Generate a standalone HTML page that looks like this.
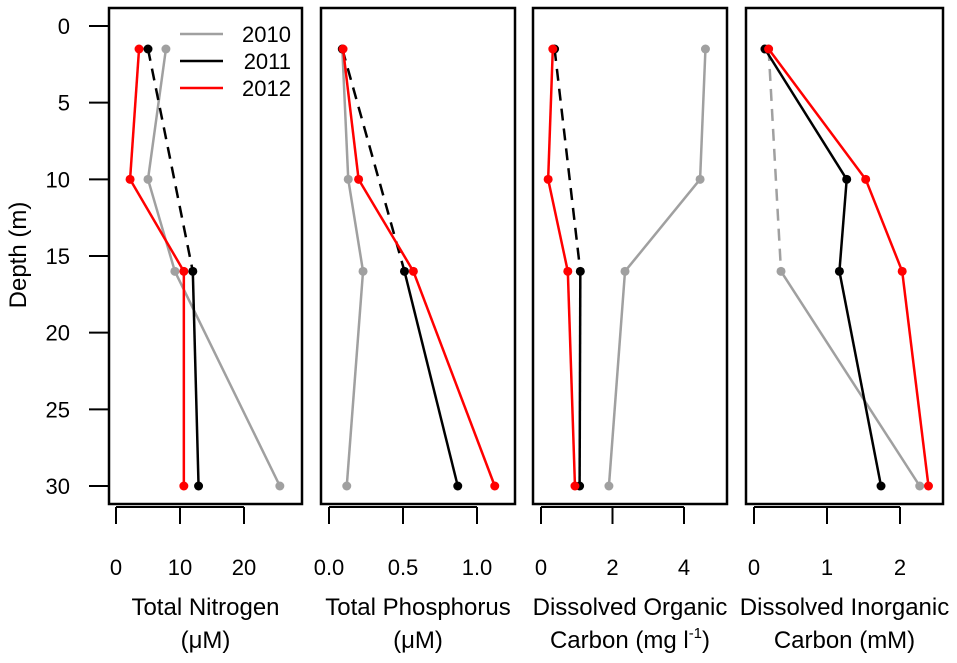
<!DOCTYPE html>
<html><head><meta charset="utf-8"><style>
body{margin:0;background:#fff}
svg text{font-family:"Liberation Sans",sans-serif;fill:#000}
</style></head><body>
<svg id="c" width="957" height="658" font-size="22" font-family="Liberation Sans, sans-serif" xmlns="http://www.w3.org/2000/svg"></svg>
<script>
const depths=[1.5,10,16,30];
const years=["2010","2011","2012"];
const tnValues=[[7.8,5,9.2,25.6],[5,null,12,12.9],[3.6,2.2,10.6,10.6]];
const tpValues=[[0.09,0.13,0.23,0.12],[0.09,null,0.51,0.87],[0.095,0.2,0.57,1.12]];
const docValues=[[4.6,4.45,2.35,1.9],[0.38,null,1.1,1.08],[0.33,0.2,0.75,0.95]];
const dicValues=[[0.2,null,0.37,2.27],[0.15,1.27,1.17,1.74],[0.2,1.53,2.03,2.39]];
const depthTicks=[0,5,10,15,20,25,30];
const tnTicks=["0","10","20"];
const tpTicks=["0.0","0.5","1.0"];
const docTicks=["0","2","4"];
const dicTicks=["0","1","2"];
const colors=["#a0a0a0","#000000","#ff0000"];
const NS="http://www.w3.org/2000/svg";
const svg=document.getElementById('c');
function mk(t,a,p){const e=document.createElementNS(NS,t);for(const k in a)e.setAttribute(k,a[k]);(p||svg).appendChild(e);return e;}
const yS=d=>26+d*(486-26)/30;
const ya=mk('g',{});


mk('line',{x1:109,x2:109,y1:yS(0),y2:yS(30),stroke:'#000','stroke-width':2},ya);
depthTicks.forEach(t=>{
 mk('line',{x1:89,x2:109,y1:yS(t),y2:yS(t),stroke:'#000','stroke-width':2},ya);
 const tx=mk('text',{x:70,y:yS(t)+8,'text-anchor':'end','font-size':22},ya);tx.textContent=t;
 
 
});
const yt=mk('text',{x:26,y:255,'text-anchor':'middle','font-size':24,transform:'rotate(-90 26 255)'});
yt.textContent='Depth (m)';


const panels=[
 {name:'total-nitrogen',l:109,r:302,x0:116,per:6.4,vals:tnValues,ticks:tnTicks,tv:[0,10,20],t1:'Total Nitrogen',t2:'(\u03bcM)'},
 {name:'total-phosphorus',l:321,r:515,x0:329,per:148,vals:tpValues,ticks:tpTicks,tv:[0,0.5,1],t1:'Total Phosphorus',t2:'(\u03bcM)'},
 {name:'dissolved-organic-carbon',l:533,r:727,x0:541,per:35.75,vals:docValues,ticks:docTicks,tv:[0,2,4],t1:'Dissolved Organic',t2:'Carbon (mg l',sup:true},
 {name:'dissolved-inorganic-carbon',l:746,r:943,x0:754,per:73,vals:dicValues,ticks:dicTicks,tv:[0,1,2],t1:'Dissolved Inorganic',t2:'Carbon (mM)'}
];
panels.forEach(p=>{
 const g=mk('g',{});
 
 
 const xS=v=>p.x0+v*p.per;
 mk('rect',{x:p.l,y:8,width:p.r-p.l,height:496,fill:'none',stroke:'#000','stroke-width':2.5},g);
 mk('line',{x1:xS(p.tv[0]),x2:xS(p.tv[2]),y1:507,y2:507,stroke:'#000','stroke-width':2},g);
 p.tv.forEach((v,i)=>{
  mk('line',{x1:xS(v),x2:xS(v),y1:507,y2:524,stroke:'#000','stroke-width':2},g);
  const t=mk('text',{x:xS(v),y:575,'text-anchor':'middle','font-size':22},g);t.textContent=p.ticks[i];
  
  
 });
 const cx=(p.l+p.r)/2;
 const a=mk('text',{x:cx,y:615,'text-anchor':'middle','font-size':24},g);a.textContent=p.t1;
 
 
 const b=mk('text',{x:cx,y:648,'text-anchor':'middle','font-size':24},g);
 
 
 if(p.sup){b.innerHTML='Carbon (mg l<tspan dy="-10" font-size="15">-1</tspan><tspan dy="10" font-size="24">)</tspan>';}
 else b.textContent=p.t2;
 [0,1,2].forEach(s=>{
  const v=p.vals[s];const sg=mk('g',{},g);
  
  
  const pts=depths.map((d,i)=>v[i]==null?null:[xS(v[i]),yS(d)]).filter(q=>q);
  for(let i=0;i<pts.length-1;i++){
   const dashed = v[1]==null && i==0;
   mk('line',{x1:pts[i][0],y1:pts[i][1],x2:pts[i+1][0],y2:pts[i+1][1],stroke:colors[s],'stroke-width':2.5,'stroke-dasharray':dashed?'12 8':'none'},sg);
  }
  pts.forEach(q=>{const c=mk('circle',{cx:q[0],cy:q[1],r:4.5,fill:colors[s]},sg);
   
   });
 });
});
const lg=mk('g',{});


years.forEach((y,i)=>{
 const yy=34+i*27;
 mk('line',{x1:180,x2:223,y1:yy,y2:yy,stroke:colors[i],'stroke-width':2.5},lg);
 const t=mk('text',{x:291,y:yy+8,'text-anchor':'end','font-size':22},lg);t.textContent=y;
 
 
});
</script>
</body></html>
